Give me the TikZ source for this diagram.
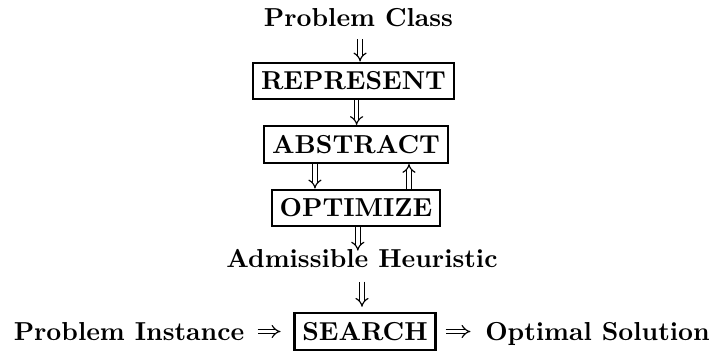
\documentclass[tikz,border=0pt]{standalone}
\usetikzlibrary{arrows.meta}

\begin{document}
\begin{tikzpicture}[x=0.385pt, y=-0.385pt]
% Styles
\tikzstyle{label}=[font=\bfseries, anchor=base, inner sep=3pt]
\tikzstyle{box}=[draw, font=\bfseries, line width=0.8pt, inner xsep=3pt, inner ysep=0pt, text height=6.9pt, text depth=0pt, minimum height=14.2pt]
\tikzstyle{dblarrow}=[double, line width=0.45pt, double distance=1.3pt, -{Implies}]

\useasboundingbox (0, 0) rectangle (716, 352);

\node [style=label] (class) at (358.5, 27) {Problem Class};
\node [style=box] (represent) at (353.5, 81) {REPRESENT};
\node [style=box] (abstract) at (356, 144.5) {ABSTRACT};
\node [style=box] (optimize) at (356, 208) {OPTIMIZE};
\node [style=label] (heuristic) at (362, 268) {Admissible Heuristic};
\node [style=box] (search) at (365, 331.5) {SEARCH};
\node [style=label] (instance) at (129, 341) {Problem Instance};
\node [style=label] (solution) at (597.5, 341) {Optimal Solution};

\draw [style=dblarrow, shorten <=1.5pt] ([xshift=0.6pt]class.south) to ([xshift=0.6pt]class.south |- represent.north);
\draw [style=dblarrow] ([xshift=1.2pt]represent.south) to ([xshift=1.2pt]represent.south |- abstract.north);
\draw [style=dblarrow] ([xshift=-15.8pt]abstract.south) to ([xshift=-15.8pt]optimize.north);
\draw [style=dblarrow] ([xshift=20.4pt]optimize.north) to ([xshift=20.4pt]abstract.south);
\draw [style=dblarrow, shorten >=-3.5pt] ([xshift=0.7pt]optimize.south) to ([xshift=0.7pt]optimize.south |- heuristic.north);
\draw [style=dblarrow, shorten <=2pt, shorten >=2pt] (heuristic.south) to (heuristic.south |- search.north);
\draw [style=dblarrow, shorten <=2pt, shorten >=5pt] (instance.east |- search.west) to (search.west);
\draw [style=dblarrow, shorten <=3.5pt, shorten >=2.5pt] (search.east) to (search.east -| solution.west);
\end{tikzpicture}
\end{document}
